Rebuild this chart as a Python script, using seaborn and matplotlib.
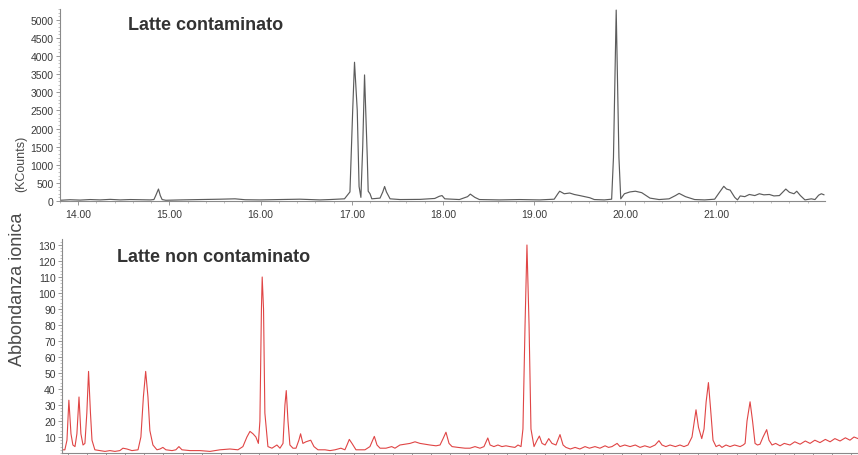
import matplotlib
matplotlib.use("Agg")
import matplotlib.pyplot as plt
import seaborn as sns
import pandas as pd
from matplotlib.ticker import MultipleLocator, FormatStrFormatter, NullFormatter

# ---------------- data ----------------
# Top chromatogram: contaminated milk, retention time (min) vs KCounts
top_time = [13.80, 13.91, 14.02, 14.13, 14.24, 14.35, 14.46, 14.57, 14.68, 14.79,
            14.83, 14.85, 14.88, 14.90, 14.92, 14.96, 15.12, 15.34, 15.56, 15.72,
            15.83, 15.99, 16.21, 16.43, 16.65, 16.76, 16.92, 16.98, 17.01, 17.03,
            17.06, 17.08, 17.10, 17.12, 17.14, 17.17, 17.18, 17.20, 17.22, 17.31,
            17.34, 17.36, 17.38, 17.42, 17.53, 17.75, 17.91, 17.96, 17.99, 18.02,
            18.18, 18.27, 18.30, 18.35, 18.40, 18.62, 18.84, 19.06, 19.22, 19.26,
            19.28, 19.33, 19.39, 19.44, 19.50, 19.61, 19.66, 19.77, 19.85, 19.87,
            19.90, 19.93, 19.95, 19.99, 20.05, 20.11, 20.18, 20.27, 20.37, 20.48,
            20.55, 20.59, 20.66, 20.76, 20.87, 20.98, 21.03, 21.08, 21.11, 21.15,
            21.20, 21.23, 21.26, 21.31, 21.36, 21.42, 21.47, 21.52, 21.58, 21.63,
            21.69, 21.76, 21.80, 21.85, 21.88, 21.92, 21.97, 22.04, 22.08, 22.12,
            22.15, 22.18]
top_counts = [20, 35, 25, 40, 30, 45, 30, 40, 35, 30,
              40, 150, 330, 150, 40, 20, 30, 40, 50, 60,
              35, 30, 40, 50, 30, 40, 60, 250, 2500, 3830,
              2500, 400, 100, 1500, 3480, 1200, 270, 200, 60, 80,
              250, 400, 250, 60, 40, 45, 70, 130, 150, 60,
              40, 120, 190, 100, 40, 30, 40, 30, 50, 200,
              270, 200, 220, 180, 150, 90, 40, 30, 50, 1200,
              5270, 1200, 60, 200, 250, 270, 230, 80, 40, 60,
              150, 210, 120, 40, 30, 50, 230, 406, 330, 300,
              100, 30, 140, 120, 180, 150, 200, 170, 180, 140,
              150, 330, 240, 200, 270, 150, 30, 60, 40, 160,
              200, 170]

# Bottom chromatogram: uncontaminated milk, scan position vs abundance
bottom_scan = [-0.31, -0.16, -0.05, 0.05, 0.16, 0.26, 0.37, 0.47, 0.58, 0.68,
               0.79, 0.89, 0.99, 1.08, 1.18, 1.26, 1.41, 1.68, 1.94, 2.20,
               2.46, 2.72, 2.88, 3.09, 3.35, 3.67, 3.82, 3.95, 4.07, 4.19,
               4.29, 4.45, 4.66, 4.82, 4.97, 5.13, 5.45, 5.65, 5.81, 5.97,
               6.39, 6.91, 7.44, 7.96, 8.48, 8.90, 9.16, 9.37, 9.53, 9.69,
               9.84, 9.97, 10.05, 10.13, 10.17, 10.24, 10.31, 10.47, 10.68, 10.94,
               11.10, 11.26, 11.36, 11.43, 11.52, 11.62, 11.78, 11.94, 12.09, 12.18,
               12.30, 12.46, 12.71, 12.88, 13.09, 13.46, 13.72, 13.98, 14.29, 14.50,
               14.61, 14.73, 14.87, 15.08, 15.55, 15.81, 16.04, 16.18, 16.34, 16.65,
               16.95, 17.12, 17.38, 17.65, 17.91, 18.17, 18.43, 18.69, 18.95, 19.27,
               19.48, 19.64, 19.79, 19.95, 20.11, 20.42, 20.79, 21.05, 21.31, 21.57,
               21.78, 21.98, 22.10, 22.30, 22.51, 22.72, 22.93, 23.14, 23.40, 23.56,
               23.72, 23.82, 23.93, 24.03, 24.14, 24.24, 24.40, 24.56, 24.68, 24.82,
               24.98, 25.17, 25.34, 25.55, 25.76, 25.92, 26.07, 26.30, 26.55, 26.80,
               27.07, 27.30, 27.59, 27.85, 28.12, 28.30, 28.48, 28.75, 28.90, 29.15,
               29.43, 29.70, 29.95, 30.20, 30.47, 30.74, 30.94, 31.10, 31.30, 31.52,
               31.80, 32.04, 32.25, 32.46, 32.67, 32.88, 33.01, 33.18, 33.30, 33.41,
               33.53, 33.64, 33.77, 33.93, 34.10, 34.24, 34.45, 34.66, 34.90, 35.19,
               35.35, 35.45, 35.55, 35.71, 35.84, 35.97, 36.10, 36.23, 36.39, 36.58,
               36.70, 36.86, 37.05, 37.28, 37.50, 37.80, 38.05, 38.33, 38.60, 38.85,
               39.10, 39.37, 39.65, 39.90, 40.15, 40.42, 40.70, 40.94, 41.15, 41.36]
bottom_abund = [2, 2, 8, 33, 12, 5, 4, 12, 35, 12,
                5, 6, 25, 51, 25, 8, 2, 1.5, 1, 1.5,
                1, 1.5, 3, 2.5, 1.5, 2, 10, 35, 51, 35,
                14, 5, 2, 2.5, 3.5, 2, 1.5, 2, 4, 2,
                1.5, 1.5, 1, 2, 2.5, 2, 4, 10, 13.5, 12,
                10, 6, 20, 90, 110, 90, 25, 4, 3, 5,
                3, 6, 30, 39, 20, 5, 3, 3, 8, 12,
                6, 7, 8, 4, 2, 2, 1.5, 2, 3, 2,
                5, 8.5, 6, 2, 2, 4, 10.4, 5, 3, 3,
                4, 3, 5, 5.5, 6, 7, 6, 5.5, 5, 4.5,
                5, 9, 13, 6, 4, 3.5, 3, 3, 4, 3,
                4, 9.4, 5, 4, 5, 4, 4.5, 4, 3.5, 5,
                4, 15, 80, 130, 80, 15, 4, 8, 10.6, 6,
                5, 9, 6, 5, 11.5, 5, 3.5, 2.5, 3.5, 2.5,
                4, 3, 4, 3, 4.5, 3.5, 4, 6, 4, 5,
                4, 5, 3.5, 4.5, 3.5, 5, 7.7, 5, 4, 5,
                4, 5, 4, 5, 10, 27, 16, 9, 15, 32,
                44, 28, 8, 4, 5, 3.5, 5, 4, 5, 4,
                5, 6, 20, 32, 20, 6, 5, 5.5, 10, 14.6,
                8, 5, 6, 4.5, 6, 5, 7, 5.5, 7.5, 6,
                8, 6.5, 8.5, 7, 9, 7.5, 9.5, 8, 10, 9]

top_yticks = [0, 500, 1000, 1500, 2000, 2500, 3000, 3500, 4000, 4500, 5000]
top_xticks = [14, 15, 16, 17, 18, 19, 20, 21]
bottom_yticks = [10, 20, 30, 40, 50, 60, 70, 80, 90, 100, 110, 120, 130]

title_top = "Latte contaminato"
title_bottom = "Latte non contaminato"
ylabel_main = "Abbondanza ionica"
ylabel_unit = "(KCounts)"

# ---------------- figure ----------------
sns.set_theme(style="white")
plt.rcParams['font.family'] = ['Liberation Sans', 'DejaVu Sans']

W, H = 858, 456
fig = plt.figure(figsize=(W / 100, H / 100), dpi=100)
fig.patch.set_facecolor("white")


def rect(l, t, r, b):
    return [l / W, 1 - b / H, (r - l) / W, (b - t) / H]


ax1 = fig.add_axes(rect(60, 10, 825, 202))
ax2 = fig.add_axes(rect(62, 240, 858, 454))

df_top = pd.DataFrame({"time": top_time, "counts": top_counts})
df_bot = pd.DataFrame({"scan": bottom_scan, "abund": bottom_abund})

sns.lineplot(data=df_top, x="time", y="counts", ax=ax1, color="#5c5c5c",
             linewidth=0.85, estimator=None, sort=False)
sns.lineplot(data=df_bot, x="scan", y="abund", ax=ax2, color="#e04545",
             linewidth=0.8, estimator=None, sort=False)

ax1.set_xlim(13.80, 22.19)
ax1.set_ylim(0, 5300)
ax1.set_xticks(top_xticks)
ax1.xaxis.set_major_formatter(FormatStrFormatter("%.2f"))
ax1.xaxis.set_minor_locator(MultipleLocator(0.2))
ax1.set_yticks(top_yticks)
ax1.yaxis.set_minor_locator(MultipleLocator(100))

ax2.set_xlim(-0.31, 41.36)
ax2.set_ylim(0, 133.75)
ax2.xaxis.set_major_locator(MultipleLocator(1))
ax2.xaxis.set_major_formatter(NullFormatter())
ax2.set_yticks(bottom_yticks)
ax2.yaxis.set_minor_locator(MultipleLocator(2))

for ax in (ax1, ax2):
    ax.set_xlabel("")
    ax.set_ylabel("")
    ax.set_facecolor("white")
    for s in ("top", "right"):
        ax.spines[s].set_visible(False)
    for s in ("left", "bottom"):
        ax.spines[s].set_color("#8a8a8a")
        ax.spines[s].set_linewidth(0.8)
    ax.tick_params(axis="both", which="major", direction="out", length=3,
                   width=0.6, color="#888888", labelsize=7.5,
                   labelcolor="#3a3a3a", pad=1.5, left=True, bottom=True)
    ax.tick_params(axis="both", which="minor", direction="out", length=1.5,
                   width=0.5, color="#aaaaaa", left=True, bottom=True)

ax1.tick_params(axis="x", which="major", pad=3)

fig.text(128 / W, 1 - 25 / H, title_top, fontsize=13, fontweight="bold",
         color="#333333", ha="left", va="center")
fig.text(117 / W, 1 - 258 / H, title_bottom, fontsize=13, fontweight="bold",
         color="#333333", ha="left", va="center")
fig.text(18 / W, 1 - 289 / H, ylabel_main, fontsize=13, rotation=90,
         color="#4a4a4a", ha="center", va="center")
fig.text(21 / W, 1 - 164 / H, ylabel_unit, fontsize=9, rotation=90,
         color="#4a4a4a", ha="center", va="center")

fig.savefig("out.png", dpi=100, facecolor="white")
